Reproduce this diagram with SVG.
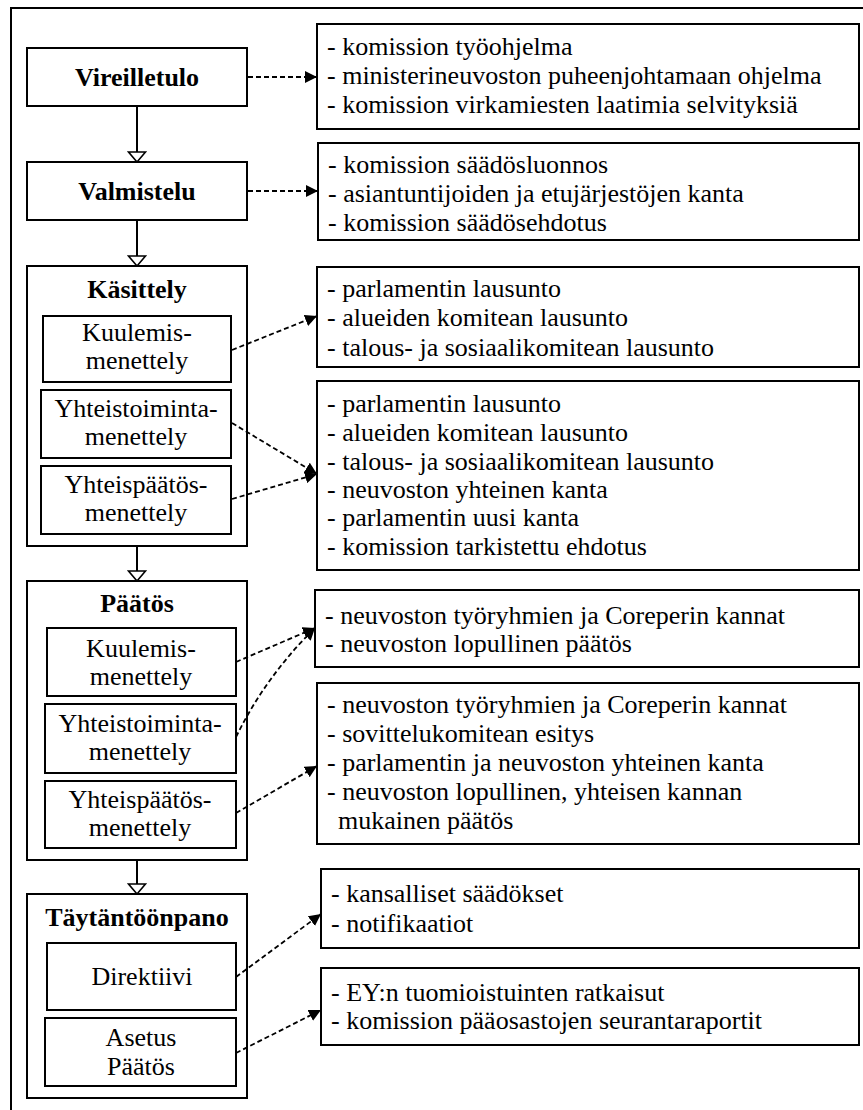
<svg xmlns="http://www.w3.org/2000/svg" width="863" height="1110" viewBox="0 0 863 1110">
  <style>
    .box { fill: #fff; stroke: #000; stroke-width: 2; }
    .t { font-family: "Liberation Serif", "Times New Roman", serif; font-size: 26px; fill: #000; }
    .b { font-weight: bold; }
    .c { text-anchor: middle; }
    .dash { fill: none; stroke: #000; stroke-width: 1.8; stroke-dasharray: 5 3; marker-end: url(#ah); }
    .flow { fill: none; stroke: #000; stroke-width: 2; marker-end: url(#hollow); }
  </style>
  <defs>
    <marker id="ah" viewBox="0 0 12 12" refX="12" refY="6" markerWidth="12" markerHeight="12" markerUnits="userSpaceOnUse" orient="auto">
      <path d="M0,0 L12,6 L0,12 z" fill="#000"/>
    </marker>
    <marker id="hollow" viewBox="0 0 12 20" refX="11" refY="10" markerWidth="12" markerHeight="20" markerUnits="userSpaceOnUse" orient="auto">
      <path d="M1,1.5 L11,10 L1,18.5 z" fill="#fff" stroke="#000" stroke-width="1.6"/>
    </marker>
  </defs>

  <!-- outer frame (top and left edges) -->
  <path d="M11,1110 V8 H863" fill="none" stroke="#000" stroke-width="2"/>

  <!-- process steps -->
  <g id="vireilletulo">
    <rect class="box" x="27" y="48" width="220" height="58"/>
    <text class="t b c" x="137" y="86">Vireilletulo</text>
  </g>
  <g id="valmistelu">
    <rect class="box" x="27" y="162" width="220" height="58"/>
    <text class="t b c" x="137" y="200">Valmistelu</text>
  </g>

  <g id="kasittely">
    <rect class="box" x="27" y="266" width="220" height="280"/>
    <text class="t b c" x="137" y="298">Käsittely</text>
    <g id="kasittely-kuulemis">
      <rect class="box" x="43" y="316" width="188" height="66"/>
      <text class="t c" x="137" y="341">Kuulemis-</text>
      <text class="t c" x="137" y="369">menettely</text>
    </g>
    <g id="kasittely-yhteistoiminta">
      <rect class="box" x="41" y="390" width="190" height="68"/>
      <text class="t c" x="136" y="417">Yhteistoiminta-</text>
      <text class="t c" x="136" y="445">menettely</text>
    </g>
    <g id="kasittely-yhteispaatos">
      <rect class="box" x="41" y="466" width="190" height="68"/>
      <text class="t c" x="136" y="493">Yhteispäätös-</text>
      <text class="t c" x="136" y="521">menettely</text>
    </g>
  </g>

  <g id="paatos">
    <rect class="box" x="27" y="581" width="220" height="279"/>
    <text class="t b c" x="137" y="612">Päätös</text>
    <g id="paatos-kuulemis">
      <rect class="box" x="47" y="628" width="189" height="68"/>
      <text class="t c" x="141" y="657">Kuulemis-</text>
      <text class="t c" x="141" y="685">menettely</text>
    </g>
    <g id="paatos-yhteistoiminta">
      <rect class="box" x="45" y="704" width="191" height="69"/>
      <text class="t c" x="140" y="732">Yhteistoiminta-</text>
      <text class="t c" x="140" y="760">menettely</text>
    </g>
    <g id="paatos-yhteispaatos">
      <rect class="box" x="45" y="781" width="191" height="67"/>
      <text class="t c" x="140" y="808">Yhteispäätös-</text>
      <text class="t c" x="140" y="836">menettely</text>
    </g>
  </g>

  <g id="taytantoonpano">
    <rect class="box" x="27" y="894" width="220" height="204"/>
    <text class="t b c" x="137" y="926">Täytäntöönpano</text>
    <g id="direktiivi">
      <rect class="box" x="47" y="943" width="189" height="67"/>
      <text class="t c" x="142" y="985">Direktiivi</text>
    </g>
    <g id="asetus-paatos">
      <rect class="box" x="45" y="1018" width="191" height="68"/>
      <text class="t c" x="141" y="1046">Asetus</text>
      <text class="t c" x="141" y="1075">Päätös</text>
    </g>
  </g>

  <!-- source documents for each step -->
  <g id="docs-vireilletulo">
    <rect class="box" x="317" y="24" width="542" height="105"/>
    <text class="t" x="327" y="55">- komission työohjelma</text>
    <text class="t" x="327" y="84">- ministerineuvoston puheenjohtamaan ohjelma</text>
    <text class="t" x="327" y="113">- komission virkamiesten laatimia selvityksiä</text>
  </g>
  <g id="docs-valmistelu">
    <rect class="box" x="318" y="143" width="541" height="97"/>
    <text class="t" x="328" y="173">- komission säädösluonnos</text>
    <text class="t" x="328" y="202">- asiantuntijoiden ja etujärjestöjen kanta</text>
    <text class="t" x="328" y="231">- komission säädösehdotus</text>
  </g>
  <g id="docs-kuulemis">
    <rect class="box" x="317" y="267" width="542" height="100"/>
    <text class="t" x="327" y="297">- parlamentin lausunto</text>
    <text class="t" x="327" y="326">- alueiden komitean lausunto</text>
    <text class="t" x="327" y="356">- talous- ja sosiaalikomitean lausunto</text>
  </g>
  <g id="docs-yhteis">
    <rect class="box" x="317" y="381" width="542" height="189"/>
    <text class="t" x="327" y="412">- parlamentin lausunto</text>
    <text class="t" x="327" y="441">- alueiden komitean lausunto</text>
    <text class="t" x="327" y="470">- talous- ja sosiaalikomitean lausunto</text>
    <text class="t" x="327" y="498">- neuvoston yhteinen kanta</text>
    <text class="t" x="327" y="526">- parlamentin uusi kanta</text>
    <text class="t" x="327" y="555">- komission tarkistettu ehdotus</text>
  </g>
  <g id="docs-paatos">
    <rect class="box" x="315" y="590" width="544" height="77"/>
    <text class="t" x="325" y="624">- neuvoston työryhmien ja Coreperin kannat</text>
    <text class="t" x="325" y="652">- neuvoston lopullinen päätös</text>
  </g>
  <g id="docs-paatos-yhteis">
    <rect class="box" x="317" y="683" width="542" height="161"/>
    <text class="t" x="327" y="713">- neuvoston työryhmien ja Coreperin kannat</text>
    <text class="t" x="327" y="742">- sovittelukomitean esitys</text>
    <text class="t" x="327" y="771">- parlamentin ja neuvoston yhteinen kanta</text>
    <text class="t" x="327" y="800">- neuvoston lopullinen, yhteisen kannan</text>
    <text class="t" x="338" y="829">mukainen päätös</text>
  </g>
  <g id="docs-direktiivi">
    <rect class="box" x="321" y="869" width="538" height="79"/>
    <text class="t" x="331" y="902">- kansalliset säädökset</text>
    <text class="t" x="331" y="932">- notifikaatiot</text>
  </g>
  <g id="docs-asetus">
    <rect class="box" x="321" y="968" width="538" height="77"/>
    <text class="t" x="331" y="1001">- EY:n tuomioistuinten ratkaisut</text>
    <text class="t" x="331" y="1029">- komission pääosastojen seurantaraportit</text>
  </g>

  <!-- connectors -->
  <g id="connectors">
    <path class="flow" d="M137,106 V162"/>
    <path class="flow" d="M137,220 V266"/>
    <path class="flow" d="M137,546 V581"/>
    <path class="flow" d="M137,860 V894"/>

    <path class="dash" d="M248,77 H317"/>
    <path class="dash" d="M248,191 H318"/>
    <path class="dash" d="M232,350 L317,316"/>
    <path class="dash" d="M232,423 L317,474"/>
    <path class="dash" d="M232,499 L317,474"/>
    <path class="dash" d="M236,662 L315,628"/>
    <path class="dash" d="M236,737 Q266,676 315,628"/>
    <path class="dash" d="M236,813 L317,766"/>
    <path class="dash" d="M236,977 L321,914"/>
    <path class="dash" d="M236,1053 L321,1010"/>
  </g>
</svg>
